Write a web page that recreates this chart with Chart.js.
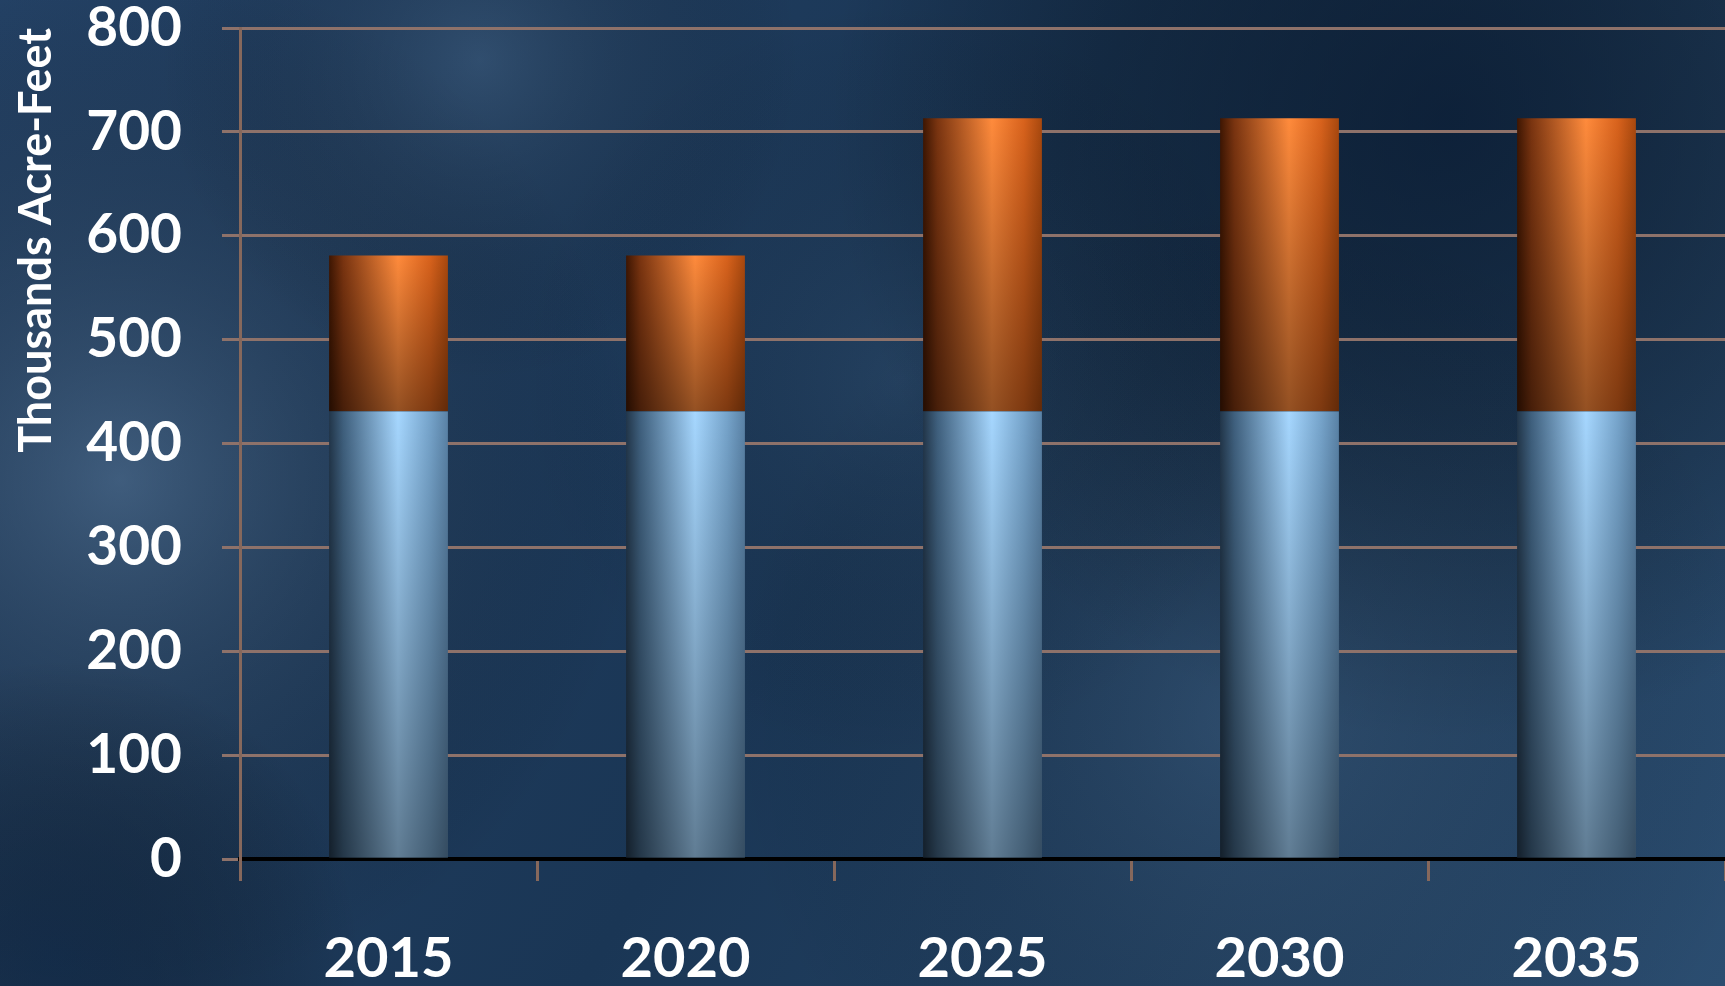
<!DOCTYPE html>
<html>
<head>
<meta charset="utf-8">
<script src="https://cdn.jsdelivr.net/npm/chart.js@4"></script>
<style>
  html, body { margin: 0; padding: 0; background: #1d3a5c; }
  #wrap { width: 1725px; height: 986px; }
</style>
</head>
<body>
<div id="wrap"><canvas id="chart" width="1725" height="986"></canvas></div>
<script>
const years = ["2015", "2020", "2025", "2030", "2035"];
const baseSupply = [431, 431, 431, 431, 431];
const addedSupply = [150, 150, 282, 282, 282];
const yTicks = [0, 100, 200, 300, 400, 500, 600, 700, 800];

const BAR_PCT = 0.4;

// horizontal "cylinder" shading for a bar, built from the x scale
function cylinder(ctx, stops) {
  const chart = ctx.chart;
  const xs = chart.scales.x;
  if (!chart.chartArea || !xs) return stops[2][1];
  const cx = xs.getPixelForValue(ctx.dataIndex);
  const w = (chart.chartArea.width / years.length) * BAR_PCT;
  const g = chart.ctx.createLinearGradient(cx - w / 2, 0, cx + w / 2, 0);
  stops.forEach(s => g.addColorStop(s[0], s[1]));
  return g;
}

const blueStops = [[0, "#22364a"], [0.12, "#3f607e"], [0.58, "#a6d7ff"], [0.85, "#76a4cb"], [1, "#5a82a6"]];
const orangeStops = [[0, "#3e1602"], [0.12, "#7a3410"], [0.58, "#ff8b3c"], [0.85, "#d8621c"], [1, "#a8480e"]];

const background = {
  id: "background",
  beforeDraw(chart) {
    const c = chart.ctx, W = chart.width, H = chart.height;
    c.save();
    const lg = c.createLinearGradient(0, 0, W, H);
    lg.addColorStop(0, "#244266");
    lg.addColorStop(0.5, "#1a3655");
    lg.addColorStop(1, "#2b4d70");
    c.fillStyle = lg;
    c.fillRect(0, 0, W, H);
    const blobs = [
      [120, 480, 520, "rgba(100,130,160,0.45)"],
      [480, 60, 320, "rgba(80,110,140,0.35)"],
      [1450, 120, 620, "rgba(4,18,38,0.65)"],
      [1250, 720, 520, "rgba(80,110,140,0.28)"],
      [60, 960, 300, "rgba(10,30,55,0.5)"],
      [900, 380, 380, "rgba(70,100,130,0.22)"]
    ];
    blobs.forEach(b => {
      const rg = c.createRadialGradient(b[0], b[1], 0, b[0], b[1], b[2]);
      rg.addColorStop(0, b[3]);
      rg.addColorStop(1, "rgba(0,0,0,0)");
      c.fillStyle = rg;
      c.fillRect(0, 0, W, H);
    });
    c.restore();
  }
};

// darken each bar segment toward its base
const barShade = {
  id: "barShade",
  afterDatasetsDraw(chart) {
    const c = chart.ctx;
    chart.data.datasets.forEach((ds, i) => {
      chart.getDatasetMeta(i).data.forEach(bar => {
        const top = Math.min(bar.y, bar.base), bot = Math.max(bar.y, bar.base);
        const g = c.createLinearGradient(0, top, 0, bot);
        g.addColorStop(0, "rgba(0,0,0,0)");
        g.addColorStop(1, "rgba(0,0,0,0.42)");
        c.fillStyle = g;
        c.fillRect(bar.x - bar.width / 2, top, bar.width, bot - top);
      });
    });
  }
};

new Chart(document.getElementById("chart"), {
  type: "bar",
  data: {
    labels: years,
    datasets: [
      {
        label: "Base",
        data: baseSupply,
        backgroundColor: ctx => cylinder(ctx, blueStops),
        borderWidth: 0,
        barPercentage: BAR_PCT,
        categoryPercentage: 1
      },
      {
        label: "Added",
        data: addedSupply,
        backgroundColor: ctx => cylinder(ctx, orangeStops),
        borderWidth: 0,
        barPercentage: BAR_PCT,
        categoryPercentage: 1
      }
    ]
  },
  options: {
    responsive: false,
    animation: false,
    layout: { padding: { top: 28, right: 0, bottom: 0, left: 0 } },
    plugins: { legend: { display: false }, tooltip: { enabled: false } },
    scales: {
      x: {
        stacked: true,
        afterFit: scale => {
          scale.height = 127;
          scale.paddingLeft = 0;
          scale.paddingRight = 0;
        },
        border: { display: true, color: "#000000", width: 4 },
        grid: {
          offset: true,
          drawOnChartArea: false,
          drawTicks: true,
          tickLength: 22,
          tickWidth: 3,
          tickColor: "#86685c"
        },
        ticks: {
          color: "#ffffff",
          maxRotation: 0,
          font: { family: "Lato", weight: "bold", size: 56, lineHeight: 1 },
          padding: 50
        }
      },
      y: {
        stacked: true,
        min: 0,
        max: 800,
        afterBuildTicks: scale => { scale.ticks = yTicks.map(v => ({ value: v })); },
        afterFit: scale => {
          scale.width = 240;
          scale.paddingTop = 0;
          scale.paddingBottom = 0;
        },
        border: { display: true, color: "#86685c", width: 3 },
        grid: {
          color: "#8e726a",
          lineWidth: 3,
          drawTicks: true,
          tickLength: 18,
          tickColor: "#8e726a"
        },
        ticks: {
          color: "#ffffff",
          font: { family: "Lato", weight: "bold", size: 55, lineHeight: 1 },
          padding: 40
        },
        title: {
          display: true,
          text: "Thousands Acre-Feet",
          align: "end",
          color: "#ffffff",
          font: { family: "Lato", weight: "bold", size: 45, lineHeight: 1 },
          padding: { top: 14, bottom: 0 }
        }
      }
    }
  },
  plugins: [background, barShade]
});
</script>
</body>
</html>
